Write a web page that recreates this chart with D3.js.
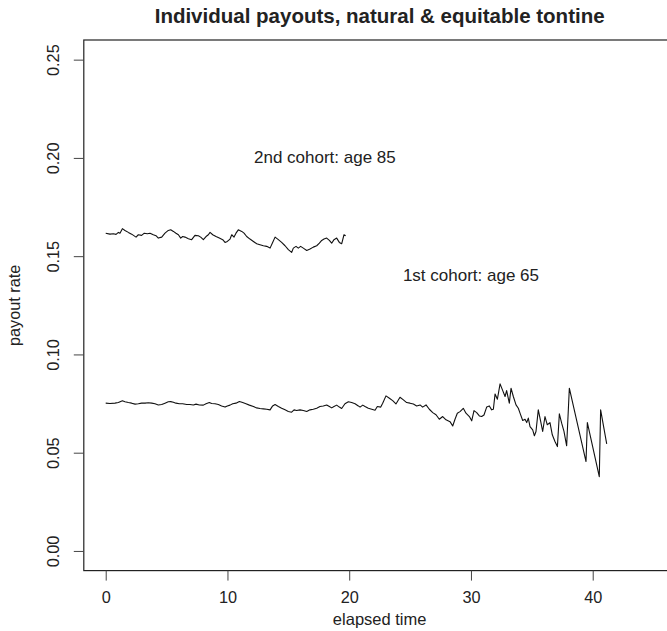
<!DOCTYPE html>
<html>
<head>
<meta charset="utf-8">
<script src="https://cdn.jsdelivr.net/npm/d3@7"></script>
<style>
  body { margin: 0; background: #fff; }
  svg { display: block; font-family: "Liberation Sans", Arial, Helvetica, sans-serif; }
</style>
</head>
<body>
<div id="chart"></div>
<script>
// payout rate, 2nd cohort (age 85)
const cohort2Time = [0.00,0.35,0.63,0.85,1.04,1.17,1.37,1.58,1.86,2.13,2.49,2.68,2.95,3.17,3.42,3.64,3.91,4.13,4.32,4.60,
  4.87,5.14,5.34,5.56,5.77,5.97,6.16,6.32,6.51,6.79,7.06,7.33,7.61,7.80,8.02,8.24,8.43,8.57,8.79,9.06,
  9.33,9.61,9.80,9.99,10.21,10.35,10.54,10.70,10.89,11.17,11.36,11.58,11.85,12.13,12.40,12.67,12.95,13.22,13.50,13.71,
  13.91,14.18,14.45,14.73,15.00,15.27,15.41,15.63,15.82,16.01,16.23,16.51,16.78,17.05,17.33,17.55,17.74,17.93,18.15,18.37,
  18.56,18.75,18.97,19.19,19.38,19.57,19.71];
const cohort2Rate = [.1617,.1612,.1614,.1611,.1621,.1617,.1640,.1631,.1621,.1612,.1597,.1609,.1606,.1617,.1614,.1617,.1609,.1604,.1592,.1597,
  .1617,.1631,.1634,.1626,.1617,.1609,.1592,.1600,.1597,.1589,.1584,.1606,.1604,.1597,.1584,.1600,.1609,.1621,.1609,.1600,
  .1592,.1584,.1570,.1575,.1587,.1609,.1597,.1617,.1634,.1626,.1617,.1600,.1587,.1575,.1563,.1558,.1553,.1550,.1541,.1570,
  .1597,.1584,.1570,.1553,.1533,.1519,.1541,.1550,.1541,.1550,.1541,.1529,.1536,.1546,.1553,.1566,.1580,.1587,.1592,.1580,
  .1566,.1584,.1592,.1570,.1563,.1609,.1604];

// payout rate, 1st cohort (age 65)
const cohort1Time = [0.00,0.35,0.76,1.04,1.37,1.58,1.86,2.13,2.41,2.68,2.95,3.23,3.50,3.78,4.05,4.32,4.60,4.87,5.14,5.34,
  5.56,5.77,6.05,6.32,6.65,6.92,7.20,7.42,7.69,8.02,8.24,8.51,8.70,8.98,9.25,9.52,9.80,9.99,10.21,10.43,
  10.70,10.98,11.25,11.52,11.80,12.13,12.40,12.67,12.95,13.22,13.50,13.71,13.91,14.18,14.45,14.73,15.00,15.27,15.47,15.68,
  15.96,16.23,16.51,16.78,17.05,17.33,17.60,17.87,18.15,18.37,18.56,18.75,18.97,19.19,19.38,19.65,19.93,20.20,20.48,20.75,
  20.89,21.11,21.30,21.57,21.85,22.12,22.31,22.59,22.75,23.02,23.30,23.57,23.84,24.17,24.45,24.72,24.99,25.27,25.54,25.82,
  26.03,26.31,26.58,26.86,27.13,27.40,27.68,27.95,28.28,28.50,28.69,28.88,29.10,29.37,29.59,29.87,30.06,30.25,30.47,30.69,
  30.88,31.07,31.29,31.51,31.70,31.84,31.98,32.17,32.39,32.61,32.80,32.93,33.15,33.29,33.48,33.70,33.89,34.03,34.25,34.44,
  34.58,34.71,34.85,35.07,35.21,35.34,35.53,35.73,35.89,36.08,36.27,36.49,36.68,36.90,37.10,37.26,37.45,37.64,37.86,38.08,
  39.45,39.56,40.54,40.65,41.15];
const cohort1Rate = [.0752,.0750,.0752,.0755,.0764,.0759,.0755,.0752,.0747,.0749,.0752,.0752,.0754,.0752,.0749,.0743,.0745,.0752,.0759,.0760,
  .0757,.0752,.0749,.0749,.0745,.0745,.0743,.0747,.0743,.0742,.0749,.0755,.0750,.0749,.0745,.0738,.0732,.0738,.0742,.0749,
  .0752,.0760,.0755,.0749,.0742,.0735,.0728,.0725,.0723,.0721,.0718,.0738,.0745,.0735,.0726,.0718,.0710,.0706,.0718,.0715,
  .0718,.0715,.0710,.0718,.0721,.0726,.0735,.0738,.0743,.0735,.0728,.0735,.0742,.0732,.0725,.0749,.0759,.0755,.0749,.0738,
  .0732,.0742,.0735,.0726,.0721,.0716,.0735,.0732,.0752,.0789,.0777,.0765,.0748,.0782,.0769,.0755,.0752,.0748,.0738,.0743,
  .0732,.0743,.0721,.0704,.0693,.0670,.0684,.0667,.0658,.0636,.0670,.0701,.0709,.0726,.0701,.0684,.0662,.0714,.0704,.0687,
  .0684,.0692,.0732,.0738,.0718,.0721,.0799,.0772,.0850,.0816,.0786,.0816,.0752,.0828,.0786,.0743,.0726,.0701,.0664,.0670,
  .0653,.0676,.0633,.0616,.0586,.0608,.0718,.0658,.0608,.0684,.0642,.0653,.0591,.0557,.0531,.0698,.0650,.0608,.0535,.0828,
  .0455,.0653,.0378,.0718,.0545];

const xTicks = [0, 10, 20, 30, 40];
const yTicks = [0.00, 0.05, 0.10, 0.15, 0.20, 0.25];
const labels = [
  { text: "2nd cohort: age 85", t: 18, rate: 0.20 },
  { text: "1st cohort: age 65", t: 30, rate: 0.14 }
];

const width = 667, height = 631;
const plot = { left: 83.8, right: 675.5, top: 40, bottom: 570.6 };

const x = d3.scaleLinear().domain([-1.8, 46.8]).range([plot.left, plot.right]);
const y = d3.scaleLinear().domain([-0.01, 0.26]).range([plot.bottom, plot.top]);

const svg = d3.select("#chart").append("svg")
  .attr("width", width).attr("height", height)
  .attr("viewBox", "0 0 " + width + " " + height);

svg.append("rect").attr("width", width).attr("height", height).attr("fill", "#fff");

// series
const line = d3.line().x(d => x(d[0])).y(d => y(d[1]));
const series = [d3.zip(cohort1Time, cohort1Rate), d3.zip(cohort2Time, cohort2Rate)];
svg.selectAll("path.series").data(series).enter().append("path")
  .attr("class", "series")
  .attr("d", line)
  .attr("fill", "none")
  .attr("stroke", "#111")
  .attr("stroke-width", 1.1)
  .attr("stroke-linejoin", "round");

// box
svg.append("rect")
  .attr("x", plot.left).attr("y", plot.top)
  .attr("width", plot.right - plot.left).attr("height", plot.bottom - plot.top)
  .attr("fill", "none").attr("stroke", "#222").attr("stroke-width", 1.2);

// x axis
const xAxis = svg.append("g")
  .attr("transform", "translate(0," + plot.bottom + ")")
  .call(d3.axisBottom(x).tickValues(xTicks).tickSize(10).tickPadding(10.7).tickFormat(d3.format("d")));
xAxis.select(".domain").remove();
xAxis.selectAll("line").attr("stroke", "#444");
xAxis.selectAll("text").attr("font-size", 16.3).attr("fill", "#222").attr("font-family", null);

// y axis
const yAxis = svg.append("g")
  .attr("transform", "translate(" + plot.left + ",0)")
  .call(d3.axisLeft(y).tickValues(yTicks).tickSize(10).tickFormat(d3.format(".2f")));
yAxis.select(".domain").remove();
yAxis.selectAll("line").attr("stroke", "#444");
yAxis.selectAll("text")
  .attr("x", null).attr("dy", null)
  .attr("text-anchor", "middle")
  .attr("transform", "translate(-24.5,0) rotate(-90)")
  .attr("font-size", 16.3).attr("fill", "#222").attr("font-family", null);

// annotations
svg.selectAll("text.note").data(labels).enter().append("text")
  .attr("class", "note")
  .attr("x", d => x(d.t)).attr("y", d => y(d.rate))
  .attr("dy", "0.32em")
  .attr("text-anchor", "middle")
  .attr("font-size", 17).attr("fill", "#222")
  .text(d => d.text);

// titles
svg.append("text")
  .attr("x", (plot.left + plot.right) / 2).attr("y", 23.3)
  .attr("text-anchor", "middle").attr("font-weight", "bold")
  .attr("font-size", 20.5).attr("fill", "#222")
  .text("Individual payouts, natural & equitable tontine");

svg.append("text")
  .attr("x", (plot.left + plot.right) / 2).attr("y", 625)
  .attr("text-anchor", "middle").attr("font-size", 16.5).attr("fill", "#222")
  .text("elapsed time");

svg.append("text")
  .attr("transform", "translate(20," + (plot.top + plot.bottom) / 2 + ") rotate(-90)")
  .attr("text-anchor", "middle").attr("font-size", 16.3).attr("fill", "#222")
  .text("payout rate");
</script>
</body>
</html>
